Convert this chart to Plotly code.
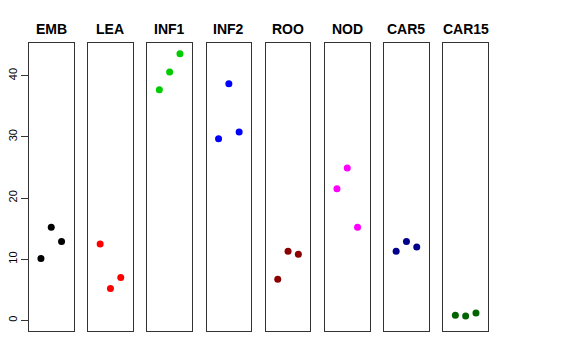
import plotly.graph_objects as go

categories = ["EMB", "LEA", "INF1", "INF2", "ROO", "NOD", "CAR5", "CAR15"]
values = [
    [10.1, 15.2, 12.9],
    [12.5, 5.2, 7.0],
    [37.7, 40.6, 43.6],
    [29.7, 38.7, 30.8],
    [6.7, 11.3, 10.8],
    [21.5, 24.9, 15.2],
    [11.3, 12.9, 12.0],
    [0.85, 0.7, 1.2],
]
colors = ["#000000", "#FF0000", "#00CD00", "#0000FF", "#8B0000", "#FF00FF", "#00008B", "#006400"]
replicates = [1, 2, 3]
y_ticks = [0, 10, 20, 30, 40]

W, H = 576, 360
left0, pw, pitch = 29.0, 44.5, 59.2
top_px, bot_px = 43.0, 331.0
ymax = max(max(v) for v in values)
ypad = 0.04 * ymax
yrange = [0 - ypad, ymax + ypad]
xrange = [0 - 0.16, 4 + 0.16]

fig = go.Figure()
font = "Liberation Sans, Arial, Helvetica, sans-serif"
for i, (cat, vals, col) in enumerate(zip(categories, values, colors)):
    n = i + 1
    xa = "x" if n == 1 else f"x{n}"
    ya = "y" if n == 1 else f"y{n}"
    fig.add_trace(go.Scatter(
        x=replicates, y=vals, mode="markers",
        marker=dict(color=col, size=7),
        xaxis=xa, yaxis=ya, showlegend=False, hoverinfo="skip"))
    x0 = (left0 + i * pitch) / W
    x1 = (left0 + i * pitch + pw) / W
    yd = [1 - bot_px / H, 1 - top_px / H]
    xkey = "xaxis" if n == 1 else f"xaxis{n}"
    ykey = "yaxis" if n == 1 else f"yaxis{n}"
    fig.layout[xkey] = dict(domain=[x0, x1], range=xrange, showticklabels=False,
                            showgrid=False, zeroline=False, ticks="",
                            showline=True, mirror=True, linecolor="#333333", linewidth=1,
                            anchor=ya, fixedrange=True)
    ydict = dict(domain=yd, range=yrange, showgrid=False, zeroline=False,
                 showline=True, mirror=True, linecolor="#333333", linewidth=1,
                 anchor=xa, fixedrange=True)
    if n == 1:
        ydict.update(tickmode="array", tickvals=y_ticks, ticktext=[str(t) for t in y_ticks],
                     ticks="outside", ticklen=7, tickcolor="#333333", tickangle=-90,
                     tickfont=dict(family=font, size=11, color="#000000"))
    else:
        ydict.update(showticklabels=False, ticks="")
    fig.layout[ykey] = ydict
    fig.add_annotation(x=(x0 + x1) / 2, y=1 - 29 / H, xref="paper", yref="paper",
                       text=f"<b>{cat}</b>", showarrow=False, xanchor="center", yanchor="middle",
                       font=dict(family=font, size=14, color="#000000"))

fig.update_layout(width=W, height=H, margin=dict(l=0, r=0, t=0, b=0),
                  plot_bgcolor="white", paper_bgcolor="white")
fig.write_html("out.html", config={"displayModeBar": False},
               post_script="document.body.style.margin='0';")
